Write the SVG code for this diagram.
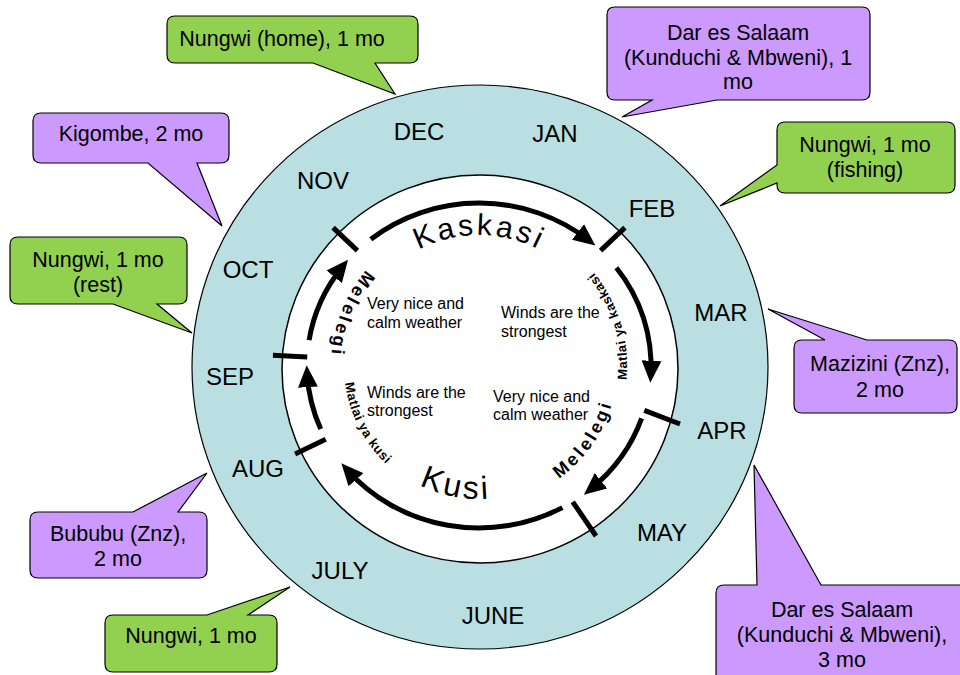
<svg xmlns="http://www.w3.org/2000/svg" xmlns:xlink="http://www.w3.org/1999/xlink" width="960" height="675" viewBox="0 0 960 675">
<style>
text{font-family:"Liberation Sans",Arial,sans-serif;fill:#000}
.co{stroke:#000;stroke-width:1.2;stroke-linejoin:miter}
.g{fill:#92D050}
.p{fill:#CC99FF}
.ct{font-size:21.5px;text-anchor:middle}
.mo{font-size:24px;text-anchor:middle}
.in{font-size:16px}
.arc{fill:none;stroke:#000;stroke-width:5;marker-end:url(#ah)}
.tick{stroke:#000;stroke-width:5}
.big{font-size:30px;letter-spacing:3px}
.sm{font-size:13px;font-weight:bold;letter-spacing:0.6px}
.mel{font-size:18px;font-weight:bold;letter-spacing:3px}
</style>
<defs>
<marker id="ah" markerUnits="userSpaceOnUse" markerWidth="22" markerHeight="20" viewBox="0 0 20 18" refX="12" refY="9" orient="auto">
<path d="M0,0 L20,9 L0,18 Z" fill="#000"/>
</marker>
<path id="pKaskasi" d="M350,343.3 A131,131 0 0,1 608,343.3"/>
<path id="pKusi" d="M346,364.4 A133,133 0 0,0 603.4,413"/>
<path id="pMyk" d="M546.2,497.9 A148,148 0 0,0 461,219.1"/>
<path id="pMelR" d="M420.7,491.1 A138,138 0 0,0 576.6,268.4"/>
<path id="pMykusi" d="M397.8,258.2 A135,135 0 0,0 518.5,495.1"/>
<path id="pMelL" d="M509.8,221.2 A148,148 0 0,0 400.6,491.5"/>
</defs>

<g id="outer-ring">
<ellipse cx="480" cy="367" rx="288" ry="282" fill="#B9DFE2" stroke="#000" stroke-width="1.2"/>
<ellipse cx="480" cy="369" rx="198" ry="194" fill="#fff" stroke="#000" stroke-width="1.5"/>
</g>

<g id="months">
<text class="mo" x="419" y="140">DEC</text>
<text class="mo" x="555" y="142">JAN</text>
<text class="mo" x="323" y="189">NOV</text>
<text class="mo" x="652" y="217">FEB</text>
<text class="mo" x="248" y="278">OCT</text>
<text class="mo" x="721" y="321">MAR</text>
<text class="mo" x="230" y="385">SEP</text>
<text class="mo" x="722" y="439">APR</text>
<text class="mo" x="258" y="477">AUG</text>
<text class="mo" x="662" y="541">MAY</text>
<text class="mo" x="340" y="579">JULY</text>
<text class="mo" x="493" y="624">JUNE</text>
</g>

<g id="connectors">
<path class="arc" d="M370.8,239.2 A172,162.5 0 0,1 588.4,240.1"/>
<path class="arc" d="M616.4,267.7 A172,162.5 0 0,1 650.8,374"/>
<path class="arc" d="M641.6,418.4 A172,162.5 0 0,1 590.7,489.1"/>
<path class="arc" d="M562.4,507.6 A172,162.5 0 0,1 347.2,469.9"/>
<path class="arc" d="M320.7,429 A172,162.5 0 0,1 307.2,374"/>
<path class="arc" d="M309.1,340.1 A172,162.5 0 0,1 342.5,266.6"/>
<line class="tick" x1="357.4" y1="250.6" x2="333.1" y2="227.6"/>
<line class="tick" x1="600.6" y1="250.6" x2="624.9" y2="227.6"/>
<line class="tick" x1="644.3" y1="410.3" x2="680" y2="424"/>
<line class="tick" x1="572.7" y1="501.8" x2="596" y2="536"/>
<line class="tick" x1="325.7" y1="439.3" x2="295.1" y2="454.1"/>
<line class="tick" x1="307.2" y1="357" x2="272.9" y2="355.3"/>
</g>

<g id="season-labels">
<text class="big"><textPath xlink:href="#pKaskasi" href="#pKaskasi" startOffset="50%" text-anchor="middle">Kaskasi</textPath></text>
<text class="big" style="font-size:32px"><textPath xlink:href="#pKusi" href="#pKusi" startOffset="50%" text-anchor="middle">Kusi</textPath></text>
<text class="sm"><textPath xlink:href="#pMyk" href="#pMyk" startOffset="50%" text-anchor="middle">Matlai ya kaskasi</textPath></text>
<text class="sm"><textPath xlink:href="#pMykusi" href="#pMykusi" startOffset="50%" text-anchor="middle">Matlai ya kusi</textPath></text>
<text class="mel"><textPath xlink:href="#pMelR" href="#pMelR" startOffset="50%" text-anchor="middle">Melelegi</textPath></text>
<text class="mel"><textPath xlink:href="#pMelL" href="#pMelL" startOffset="50%" text-anchor="middle">Melelegi</textPath></text>
</g>

<g id="weather">
<text class="in" x="367" y="309">Very nice and</text>
<text class="in" x="367" y="328">calm weather</text>
<text class="in" x="501" y="318">Winds are the</text>
<text class="in" x="501" y="337">strongest</text>
<text class="in" x="367" y="398">Winds are the</text>
<text class="in" x="367" y="416">strongest</text>
<text class="in" x="493" y="402">Very nice and</text>
<text class="in" x="493" y="420">calm weather</text>
</g>

<g id="c-nungwi-home">
<path class="co g" d="M175,16 H410 Q418,16 418,24 V55 Q418,63 410,63 H375 L395,94 L313,63 H175 Q167,63 167,55 V24 Q167,16 175,16 Z"/>
<text class="ct" x="282" y="46">Nungwi (home), 1 mo</text>
</g>
<g id="c-dar-1">
<path class="co p" d="M615,7 H862 Q870,7 870,15 V92 Q870,100 862,100 H717 L622,117 L652,100 H615 Q607,100 607,92 V15 Q607,7 615,7 Z"/>
<text class="ct" x="738" y="40">Dar es Salaam</text>
<text class="ct" x="738" y="65">(Kunduchi &amp; Mbweni), 1</text>
<text class="ct" x="738" y="89">mo</text>
</g>
<g id="c-nungwi-fishing">
<path class="co g" d="M785,122 H947 Q955,122 955,130 V185 Q955,193 947,193 H785 Q777,193 777,185 V183 L720,206 L777,165 V130 Q777,122 785,122 Z"/>
<text class="ct" x="865" y="152">Nungwi, 1 mo</text>
<text class="ct" x="865" y="177">(fishing)</text>
</g>
<g id="c-mazizini">
<path class="co p" d="M802,340 H825 L768,309 L867,340 H949 Q957,340 957,348 V405 Q957,413 949,413 H802 Q794,413 794,405 V348 Q794,340 802,340 Z"/>
<text class="ct" x="880" y="371">Mazizini (Znz),</text>
<text class="ct" x="880" y="397">2 mo</text>
</g>
<g id="c-dar-3">
<path class="co p" d="M724,585 H757 L754,465 L821,585 H960 Q968,585 968,593 V680 Q968,688 960,688 H724 Q716,688 716,680 V593 Q716,585 724,585 Z"/>
<text class="ct" x="842" y="617">Dar es Salaam</text>
<text class="ct" x="842" y="642">(Kunduchi &amp; Mbweni),</text>
<text class="ct" x="842" y="667">3 mo</text>
</g>
<g id="c-kigombe">
<path class="co p" d="M41,113 H221 Q229,113 229,121 V155 Q229,163 221,163 H197 L222,226 L148,163 H41 Q33,163 33,155 V121 Q33,113 41,113 Z"/>
<text class="ct" x="131" y="141">Kigombe, 2 mo</text>
</g>
<g id="c-nungwi-rest">
<path class="co g" d="M18,237 H179 Q187,237 187,245 V296 Q187,304 179,304 H157 L192,333 L113,304 H18 Q10,304 10,296 V245 Q10,237 18,237 Z"/>
<text class="ct" x="98" y="267">Nungwi, 1 mo</text>
<text class="ct" x="98" y="292">(rest)</text>
</g>
<g id="c-bububu">
<path class="co p" d="M38,512 H133 L207,473 L178,512 H199 Q207,512 207,520 V570 Q207,578 199,578 H38 Q30,578 30,570 V520 Q30,512 38,512 Z"/>
<text class="ct" x="118" y="541">Bububu (Znz),</text>
<text class="ct" x="118" y="566">2 mo</text>
</g>
<g id="c-nungwi-bottom">
<path class="co g" d="M113,615 H207 L290,587 L248,615 H269 Q277,615 277,623 V664 Q277,672 269,672 H113 Q105,672 105,664 V623 Q105,615 113,615 Z"/>
<text class="ct" x="191" y="643">Nungwi, 1 mo</text>
</g>
</svg>
